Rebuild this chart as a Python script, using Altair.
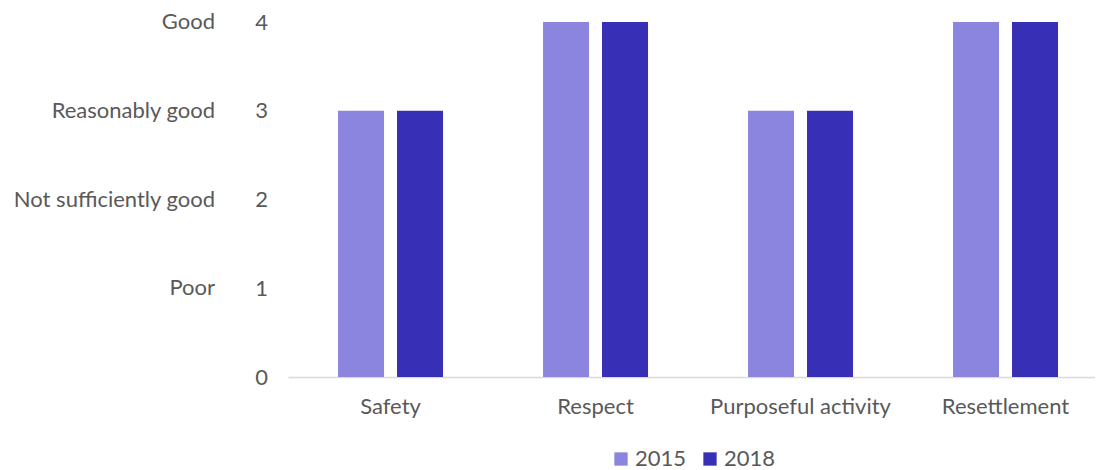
import altair as alt
import pandas as pd

categories = ["Safety", "Respect", "Purposeful activity", "Resettlement"]
years = ["2015", "2018"]
values_2015 = [3, 4, 3, 4]
values_2018 = [3, 4, 3, 4]
rating_values = [1, 2, 3, 4]
rating_labels = ["Poor", "Not sufficiently good", "Reasonably good", "Good"]
colors = ["#8B85E0", "#372FB6"]

rows = []
for c, v1, v2 in zip(categories, values_2015, values_2018):
    rows.append({"category": c, "year": years[0], "value": v1})
    rows.append({"category": c, "year": years[1], "value": v2})
df = pd.DataFrame(rows)
lab = pd.DataFrame({"value": rating_values, "label": rating_labels})

FONT = "Lato"
GREY = "#595959"
FS = 22

bars = alt.Chart(df).mark_bar().encode(
    x=alt.X("category:N", sort=categories, title=None,
            scale=alt.Scale(paddingInner=0.4878, paddingOuter=0.2122, align=0.575),
            axis=alt.Axis(labelAngle=0, ticks=False, labelPadding=19, labelLimit=0,
                          labelFontSize=FS, labelColor=GREY, labelFont=FONT,
                          domainColor="#D9D9D9", domainWidth=1.5)),
    xOffset=alt.XOffset("year:N", scale=alt.Scale(paddingInner=0.22, paddingOuter=0)),
    y=alt.Y("value:Q", title=None,
            scale=alt.Scale(domain=[0, 4], nice=False),
            axis=alt.Axis(values=[0, 1, 2, 3, 4], grid=False, domain=False, ticks=False,
                          labelPadding=27, labelAlign="center", labelFontSize=FS,
                          labelColor=GREY, labelFont=FONT, format="d")),
    color=alt.Color("year:N", scale=alt.Scale(domain=years, range=colors), title=None,
                    legend=alt.Legend(orient="none", legendX=322, legendY=426,
                                      direction="horizontal", symbolType="square",
                                      symbolSize=177, symbolStrokeWidth=0,
                                      labelFontSize=FS, labelColor=GREY, labelFont=FONT,
                                      labelOffset=3, columnPadding=12)),
)

texts = alt.Chart(lab).mark_text(align="right", baseline="middle", fontSize=FS,
                                 color=GREY, font=FONT).encode(
    x=alt.value(-73),
    y=alt.Y("value:Q"),
    text="label:N",
)

chart = alt.layer(bars, texts).properties(
    width=807, height=355,
    autosize=alt.AutoSizeParams(type="none"),
    padding={"left": 280, "top": 14, "right": 0, "bottom": 92},
).configure_view(stroke=None)

chart.save("out.html", embed_options={"renderer": "svg", "actions": False})
